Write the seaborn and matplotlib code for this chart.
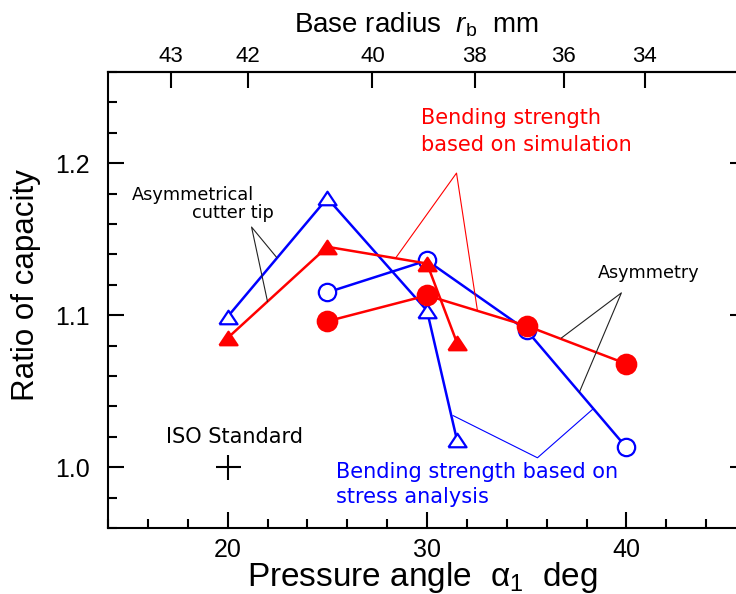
import numpy as np
import matplotlib
matplotlib.use("Agg")
import matplotlib.pyplot as plt
import seaborn as sns
from matplotlib.ticker import MultipleLocator, NullLocator

# ---------------- data ----------------
angle_tri = [20, 25, 30, 31.5]          # pressure angle, asymmetrical cutter tip
angle_circ = [25, 30, 35, 40]           # pressure angle, asymmetry
stress_tri = [1.099, 1.177, 1.103, 1.018]   # blue open triangles
sim_tri = [1.085, 1.145, 1.134, 1.082]      # red filled triangles
stress_circ = [1.115, 1.136, 1.090, 1.013]  # blue open circles
sim_circ = [1.096, 1.113, 1.093, 1.068]     # red filled circles
iso_angle = [20]
iso_ratio = [1.0]
angle_ticks = [20, 30, 40]
ratio_ticks = [1.0, 1.1, 1.2]
radius_ticks = [43, 42, 40, 38, 36, 34]
pitch_radius = 45.0

# ---------------- style ----------------
sns.set_style("ticks")
plt.rcParams["font.family"] = ["Liberation Sans", "DejaVu Sans"]
plt.rcParams["mathtext.fontset"] = "custom"
plt.rcParams["mathtext.rm"] = "Liberation Sans"
plt.rcParams["mathtext.it"] = "Liberation Sans:italic"
plt.rcParams["mathtext.bf"] = "Liberation Sans:bold"
plt.rcParams["text.color"] = "black"
plt.rcParams["axes.labelcolor"] = "black"
plt.rcParams["xtick.color"] = "black"
plt.rcParams["ytick.color"] = "black"
plt.rcParams["axes.edgecolor"] = "black"

BLUE = "#0000FF"
RED = "#FF0000"
ANN = "DejaVu Sans"

fig = plt.figure(figsize=(7.36, 5.94), dpi=100)
ax = fig.add_axes([108 / 736, 66 / 594, 638 / 736, 456 / 594])

tri = [(-1, -0.75), (1, -0.75), (0, 0.75), (-1, -0.75)]


def series(x, y, color, marker, filled, ms):
    sns.lineplot(x=x, y=y, ax=ax, sort=False, estimator=None,
                 color=color, linewidth=1.8, marker=marker, markersize=ms,
                 markerfacecolor=color if filled else "white",
                 markeredgecolor=color, markeredgewidth=1.6)


series(angle_tri, stress_tri, BLUE, tri, False, 13)
series(angle_circ, stress_circ, BLUE, "o", False, 12.5)
series(angle_tri, sim_tri, RED, tri, True, 13)
series(angle_circ, sim_circ, RED, "o", True, 14)

sns.scatterplot(x=iso_angle, y=iso_ratio, ax=ax, marker="+", s=18 ** 2,
                color="black", linewidth=1.5)

# ---------------- axes ----------------
ax.set_xlim(14, 46)
ax.set_ylim(0.96, 1.26)
ax.set_xticks(angle_ticks)
ax.set_yticks(ratio_ticks)
ax.yaxis.set_major_formatter("{x:.1f}")
ax.xaxis.set_minor_locator(MultipleLocator(2))
ax.yaxis.set_minor_locator(MultipleLocator(0.02))
ax.tick_params(which="both", direction="in", width=1.5, color="black",
               left=True, right=True, bottom=True, top=False)
ax.tick_params(which="major", length=11.5)
ax.tick_params(which="minor", length=6.5)
ax.tick_params(axis="x", pad=7, labelsize=18, labelcolor="black")
ax.tick_params(axis="y", pad=13, labelsize=18, labelcolor="black")
for s in ax.spines.values():
    s.set_visible(True)
    s.set_linewidth(1.5)
    s.set_color("black")

sec = ax.secondary_xaxis(
    "top",
    functions=(lambda a: pitch_radius * np.cos(np.radians(a)),
               lambda r: np.degrees(np.arccos(np.clip(np.asarray(r) / pitch_radius, -1, 1)))))
sec.set_xticks(radius_ticks)
sec.xaxis.set_minor_locator(NullLocator())
sec.tick_params(direction="in", length=11.5, width=1.5, pad=3.5, labelsize=16,
                color="black", labelcolor="black")
sec.spines["top"].set_linewidth(1.5)
sec.spines["top"].set_color("black")

ax.set_xlabel("Pressure angle  $\\mathrm{\\alpha}_{1}$  deg", fontsize=24)
ax.xaxis.label.set_va("center")
ax.xaxis.set_label_coords(0.492, -0.1075)
ax.set_ylabel("Ratio of capacity", fontsize=22.5)
ax.yaxis.label.set_va("center")
ax.yaxis.set_label_coords(-0.128, 0.532)

fig.text(416 / 736, 1 - 25 / 594, "Base radius  $\\mathit{r}_{\\mathrm{b}}$  mm",
         ha="center", va="center", fontsize=20)

# ---------------- annotations ----------------
ax.text(15.19, 1.179, "Asymmetrical", fontsize=12.8, family=ANN, va="center")
ax.text(18.2, 1.167, "cutter tip", fontsize=12.8, family=ANN, va="center")
ax.plot([22.46, 21.2, 22.0], [1.138, 1.158, 1.109], color="#222222", lw=0.8)

ax.text(29.72, 1.2297, "Bending strength", fontsize=15, family=ANN, va="center", color=RED)
ax.text(29.72, 1.212, "based on simulation", fontsize=15, family=ANN, va="center", color=RED)
ax.plot([28.42, 31.48, 32.53], [1.1375, 1.1935, 1.103], color=RED, lw=0.8)

ax.text(38.55, 1.128, "Asymmetry", fontsize=12.7, family=ANN, va="center")
ax.plot([36.74, 39.75, 37.64], [1.085, 1.1147, 1.0493], color="#222222", lw=0.8)

ax.text(25.46, 0.997, "Bending strength based on", fontsize=15, family=ANN, va="center", color=BLUE)
ax.text(25.46, 0.9806, "stress analysis", fontsize=15, family=ANN, va="center", color=BLUE)
ax.plot([31.3, 35.54, 38.3], [1.034, 1.0062, 1.038], color=BLUE, lw=0.8)

ax.text(20.35, 1.020, "ISO Standard", fontsize=15, family=ANN, va="center", ha="center")

fig.savefig("out.png", dpi=100)
